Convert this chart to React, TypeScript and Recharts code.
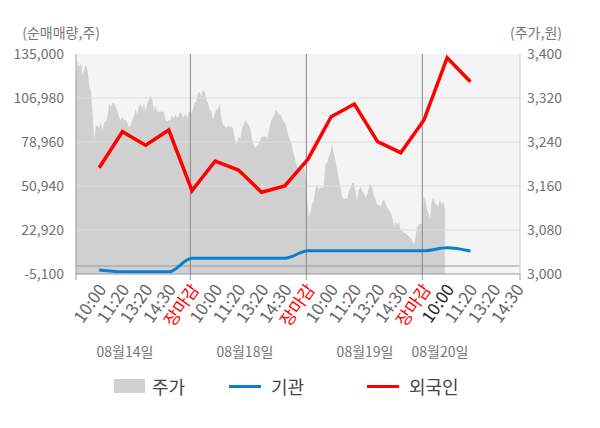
import React from "react";
import {
  ComposedChart,
  Area,
  Line,
  XAxis,
  YAxis,
  CartesianGrid,
  ReferenceLine
} from "recharts";

/* ---------- DATA ---------- */

const timeLabels = [
  "10:00", "11:20", "13:20", "14:30", "장마감",
  "10:00", "11:20", "13:20", "14:30", "장마감",
  "10:00", "11:20", "13:20", "14:30", "장마감",
  "10:00", "11:20", "13:20", "14:30"
];

const dateLabels = ["08월14일", "08월18일", "08월19일", "08월20일"];

// net buying (shares), one value per time slot starting at slot 1
const foreignNet = [
  62600, 85500, 76860, 86600, 47950,
  66860, 61130, 46930, 50940, 68000,
  95080, 103160, 79160, 72160, 92970,
  132660, 117370
];

const institutionNet = [
  -2550, -3700, -3700, -3700, 4900,
  4900, 4900, 4900, 4900, 9740,
  9740, 9740, 9740, 9740, 9740,
  11650, 9530
];

// intraday price (won)
const priceDay1 = [
  3352, 3386, 3377, 3383, 3362, 3374, 3380, 3371, 3340, 3334,
  3292, 3246, 3268, 3271, 3265, 3277, 3262, 3277, 3277, 3286,
  3310, 3304, 3311, 3310, 3304, 3295, 3286, 3280, 3286, 3280,
  3280, 3274, 3266, 3272, 3279, 3289, 3299, 3291, 3305, 3310,
  3299, 3311, 3295, 3310, 3316, 3325, 3317, 3297, 3307, 3295,
  3295, 3295, 3295, 3295, 3280, 3277, 3280, 3279, 3289, 3283,
  3291, 3283, 3289, 3295, 3289, 3283, 3292, 3283, 3295, 3293
];

const priceDay2 = [
  3292, 3298, 3310, 3313, 3328, 3331, 3322, 3335, 3331, 3319,
  3310, 3298, 3295, 3280, 3292, 3298, 3301, 3310, 3280, 3271,
  3269, 3265, 3271, 3266, 3269, 3262, 3242, 3236, 3251, 3245,
  3265, 3271, 3280, 3274, 3271, 3263, 3243, 3234, 3228, 3234,
  3237, 3246, 3251, 3248, 3251, 3246, 3262, 3277, 3283, 3289,
  3299, 3295, 3289, 3289, 3280, 3277, 3271, 3256, 3246, 3240,
  3225, 3213, 3201, 3192, 3192, 3195, 3190, 3192, 3160
];

const priceDay3 = [
  3138, 3104, 3110, 3129, 3132, 3153, 3165, 3153, 3158, 3156,
  3159, 3201, 3201, 3213, 3222, 3238, 3219, 3207, 3189, 3171,
  3159, 3141, 3135, 3138, 3136, 3150, 3156, 3165, 3166, 3150,
  3135, 3153, 3159, 3150, 3148, 3139, 3144, 3156, 3165, 3156,
  3142, 3135, 3126, 3127, 3122, 3132, 3136, 3127, 3121, 3116,
  3112, 3104, 3086, 3095, 3089, 3095, 3080, 3079, 3075, 3074,
  3071, 3069, 3065, 3059, 3053, 3068, 3086, 3091, 3091, 3091
];

const priceDay4 = [
  3141, 3135, 3119, 3110, 3101, 3132, 3139, 3129, 3126, 3122,
  3136, 3126, 3132, 3119
];

const flowTicks = [-5100, 22920, 50940, 78960, 106980, 135000];
const priceTicks = [3000, 3080, 3160, 3240, 3320, 3400];

/* ---------- SLOT AXIS ---------- */

// x axis runs in "slot" units, one slot per time label
const AXIS_END = 19.14;
const dayBreaks = [4.93, 9.93, 14.93];
const dayRanges = [[0, 4.93], [4.96, 9.93], [9.96, 14.93], [14.98, 15.9]];
const dateSlots = [2.11, 7.28, 12.46, 15.69];
const CURRENT_SLOT = 15;

const FONT = "'Noto Sans CJK KR', 'Noto Sans', sans-serif";
const RED = "#ff0000";
const BLUE = "#0a7fcf";
const GRAY_AREA = "#d0d0d0";

const priceRows = [priceDay1, priceDay2, priceDay3, priceDay4].flatMap((vals, d) => {
  const [s, e] = dayRanges[d];
  return vals.map((p, i) => ({ x: s + (i * (e - s)) / (vals.length - 1), price: p }));
});

const flowRows = foreignNet.map((v, i) => ({
  x: i + 1,
  foreign: v,
  institution: institutionNet[i]
}));

const chartData: any[] = [...priceRows, ...flowRows].sort((a, b) => a.x - b.x);

const tickSpecs: any[] = [
  ...[0, ...dayBreaks, AXIS_END].map((v) => ({ v, kind: "mark" })),
  ...timeLabels.map((t, i) => ({ v: i + 1, kind: "time", text: t, idx: i })),
  ...dateLabels.map((t, i) => ({ v: dateSlots[i], kind: "date", text: t }))
].sort((a, b) => a.v - b.v);

/* ---------- TICKS ---------- */

function SlotTick({ x, y, payload }: any) {
  const spec = tickSpecs.find((t) => Math.abs(t.v - payload.value) < 1e-6);
  if (!spec) return null;

  if (spec.kind === "mark")
    return <line x1={x} x2={x} y1={y} y2={y + 6} stroke="#999" />;

  if (spec.kind === "date")
    return (
      <text x={x} y={y + 83} textAnchor="middle" fontSize={14} fill="#777" fontFamily={FONT}>
        {spec.text}
      </text>
    );

  const color =
    spec.text === "장마감" ? RED : spec.idx === CURRENT_SLOT ? "#222" : "#666";
  const ax = x + 3;
  const ay = y + 12;

  return (
    <text
      x={ax}
      y={ay}
      dy="0.35em"
      textAnchor="end"
      transform={`rotate(-55, ${ax}, ${ay})`}
      fontSize={17}
      fill={color}
      fontFamily={FONT}
    >
      {spec.text}
    </text>
  );
}

function AxisTitle({ viewBox, text, side }: any) {
  if (!viewBox) return null;
  const x = side === "left" ? viewBox.x + viewBox.width + 24 : viewBox.x + 42;
  return (
    <text x={x} y={viewBox.y - 16} textAnchor="end" fontSize={14} fill="#777" fontFamily={FONT}>
      {text}
    </text>
  );
}

/* ---------- LEGEND ---------- */

const legendItems = [
  { name: "주가", kind: "rect", color: GRAY_AREA },
  { name: "기관", kind: "line", color: BLUE },
  { name: "외국인", kind: "line", color: RED }
];

const legendSlotWidths = [115, 138, 100];

function ChartLegend() {
  return (
    <div
      style={{
        position: "absolute",
        left: 114,
        top: 372,
        height: 28,
        display: "flex",
        alignItems: "center",
        fontFamily: FONT,
        fontSize: 18,
        color: "#444"
      }}
    >
      {legendItems.map((item, i) => (
        <div
          key={item.name}
          style={{ display: "flex", alignItems: "center", width: legendSlotWidths[i] }}
        >
          {item.kind === "rect" ? (
            <div style={{ width: 31, height: 14, background: item.color }} />
          ) : (
            <div style={{ width: 32, height: 3, background: item.color }} />
          )}
          <span style={{ marginLeft: item.kind === "rect" ? 7 : 10 }}>{item.name}</span>
        </div>
      ))}
    </div>
  );
}

/* ---------- MAIN ---------- */

export default function App() {
  const tickStyle = { fontSize: 14, fill: "#707070", fontFamily: FONT };

  return (
    <div style={{ position: "absolute", left: 0, top: 0, width: 600, height: 428, background: "#fff" }}>
      <ComposedChart
        width={600}
        height={428}
        data={chartData}
        margin={{ top: 54, right: 0, bottom: 0, left: 0 }}
      >
        <CartesianGrid
          yAxisId="flow"
          fill="#f4f4f4"
          stroke="none"
          horizontal={false}
          vertical={false}
        />

        <XAxis
          dataKey="x"
          type="number"
          domain={[0, AXIS_END]}
          ticks={tickSpecs.map((t) => t.v)}
          interval={0}
          height={154}
          tickSize={0}
          tickMargin={0}
          tickLine={false}
          axisLine={{ stroke: "#999" }}
          tick={<SlotTick />}
        />

        <YAxis
          yAxisId="flow"
          orientation="left"
          width={76}
          domain={[-5100, 135000]}
          ticks={flowTicks}
          interval={0}
          tickFormatter={(v: number) => v.toLocaleString("en-US")}
          tick={tickStyle}
          tickLine={false}
          tickSize={0}
          tickMargin={12}
          axisLine={{ stroke: "#999" }}
          label={<AxisTitle text="(순매매량,주)" side="left" />}
        />

        <YAxis
          yAxisId="price"
          orientation="right"
          width={80}
          domain={[3000, 3400]}
          ticks={priceTicks}
          interval={0}
          tickFormatter={(v: number) => v.toLocaleString("en-US")}
          tick={tickStyle}
          tickLine={false}
          tickSize={0}
          tickMargin={7}
          axisLine={{ stroke: "#ccc" }}
          label={<AxisTitle text="(주가,원)" side="right" />}
        />

        {/* PRICE AREA */}

        <Area
          yAxisId="price"
          dataKey="price"
          type="linear"
          fill={GRAY_AREA}
          fillOpacity={1}
          stroke="none"
          connectNulls
          dot={false}
          activeDot={false}
          isAnimationActive={false}
        />

        {/* GRID OVER AREA */}

        {flowTicks.slice(1, -1).map((v) => (
          <ReferenceLine key={v} yAxisId="flow" y={v} stroke="#dedede" />
        ))}

        <ReferenceLine yAxisId="flow" y={0} stroke="#999" />

        {dayBreaks.map((v) => (
          <ReferenceLine key={v} yAxisId="flow" x={v} stroke="#888" />
        ))}

        {/* NET BUYING */}

        <Line
          yAxisId="flow"
          dataKey="institution"
          type="monotone"
          stroke={BLUE}
          strokeWidth={3}
          dot={false}
          activeDot={false}
          connectNulls
          isAnimationActive={false}
        />

        <Line
          yAxisId="flow"
          dataKey="foreign"
          type="linear"
          stroke={RED}
          strokeWidth={3.5}
          dot={false}
          activeDot={false}
          connectNulls
          isAnimationActive={false}
        />
      </ComposedChart>

      <ChartLegend />
    </div>
  );
}
